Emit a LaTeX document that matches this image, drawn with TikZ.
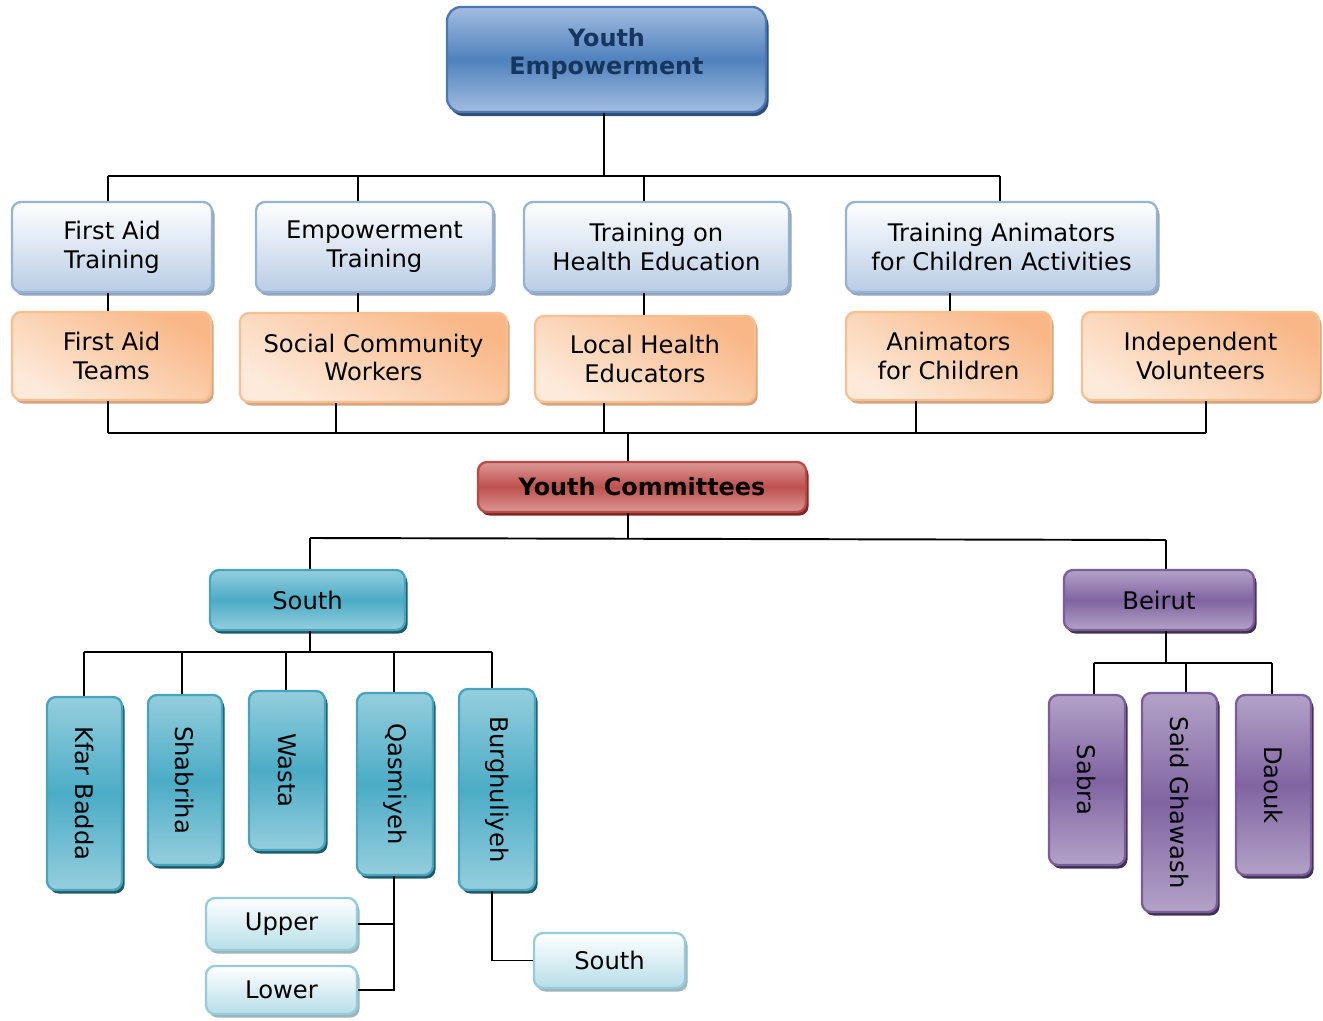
\documentclass[tikz,border=0pt]{standalone}
\usepackage{fontspec}
\setmainfont{DejaVu Sans}
\usepackage{graphicx}
\usetikzlibrary{shadows}
\definecolor{yemid}{HTML}{4F81BD}
\definecolor{yelight}{HTML}{A3BDE0}
\definecolor{yeborder}{HTML}{4A78B5}
\definecolor{yeshadow}{HTML}{2C4D75}
\definecolor{yetext}{HTML}{17365D}
\definecolor{lbtop}{HTML}{FFFFFF}
\definecolor{lbbot}{HTML}{B9CDE5}
\definecolor{lbborder}{HTML}{95B3D7}
\definecolor{lbshadow}{HTML}{96A5B8}
\definecolor{ordark}{HTML}{F9B787}
\definecolor{orlight}{HTML}{FDEADA}
\definecolor{orborder}{HTML}{F9BF8F}
\definecolor{orshadow}{HTML}{D2A47F}
\definecolor{rdmid}{HTML}{C0504D}
\definecolor{rdlight}{HTML}{DA9896}
\definecolor{rdborder}{HTML}{B94A47}
\definecolor{rdshadow}{HTML}{7F2624}
\definecolor{tlmid}{HTML}{4BACC6}
\definecolor{tllight}{HTML}{95CEDD}
\definecolor{tlborder}{HTML}{45A5BF}
\definecolor{tlshadow}{HTML}{215967}
\definecolor{ppmid}{HTML}{8064A2}
\definecolor{pplight}{HTML}{B3A2C7}
\definecolor{ppborder}{HTML}{7A5E9C}
\definecolor{ppshadow}{HTML}{3F3151}
\definecolor{lttop}{HTML}{FFFFFF}
\definecolor{ltbot}{HTML}{B7DEE8}
\definecolor{ltborder}{HTML}{93CDDD}
\definecolor{ltshadow}{HTML}{9FB3B9}
\newcommand{\mybox}[7]{%
  \node[#2, minimum width={(#5-#3)*0.02cm}, minimum height={(#6-#4)*0.02cm}] (#1) at ({(#3+#5)/2},{(#4+#6)/2}) {#7};}
\newcommand{\vtext}[1]{\rotatebox{-90}{#1}}
\tikzset{
  conn/.style={line width=1.1pt, black},
  basebox/.style={rounded corners=0.18cm, line width=1.3pt, inner sep=0pt, align=center,
    font=\fontsize{13.8}{16.3}\selectfont},
  yebox/.style={basebox, rounded corners=0.28cm, draw=yeborder, top color=yelight, bottom color=yelight,
    middle color=yemid, general shadow={fill=yeshadow, shadow xshift=0.05cm, shadow yshift=-0.08cm},
    text=yetext, text depth=0.33cm, font=\bfseries\fontsize{13.6}{16}\selectfont},
  lbbox/.style={basebox, draw=lbborder, top color=lbtop, bottom color=lbbot,
    general shadow={fill=lbshadow, shadow xshift=0.05cm, shadow yshift=-0.07cm}},
  orbox/.style={basebox, draw=orborder, top color=ordark, bottom color=orlight, shading angle=-30,
    general shadow={fill=orshadow, shadow xshift=0.05cm, shadow yshift=-0.07cm}},
  rdbox/.style={basebox, draw=rdborder, top color=rdlight, bottom color=rdlight, middle color=rdmid,
    general shadow={fill=rdshadow, shadow xshift=0.05cm, shadow yshift=-0.07cm},
    font=\bfseries\fontsize{13.6}{16.3}\selectfont},
  tlbox/.style={basebox, draw=tlborder, top color=tllight, bottom color=tllight, middle color=tlmid,
    general shadow={fill=tlshadow, shadow xshift=0.05cm, shadow yshift=-0.07cm}},
  ppbox/.style={basebox, draw=ppborder, top color=pplight, bottom color=pplight, middle color=ppmid,
    general shadow={fill=ppshadow, shadow xshift=0.05cm, shadow yshift=-0.07cm}},
  ltbox/.style={basebox, draw=ltborder, top color=lttop, bottom color=ltbot,
    general shadow={fill=ltshadow, shadow xshift=0.05cm, shadow yshift=-0.07cm}},
}
\begin{document}
\begin{tikzpicture}[x=0.02cm, y=-0.02cm]
\useasboundingbox (0,0) rectangle (1323,1021);
% nodes
\mybox{ye}{yebox}{447}{7}{766}{112}{Youth\\Empowerment}
\mybox{fat}{lbbox}{12}{202}{212}{292}{First Aid\\Training}
\mybox{et}{lbbox}{256}{202}{493}{292}{Empowerment\\Training}
\mybox{the}{lbbox}{524}{202}{789}{292}{Training on\\Health Education}
\mybox{ta}{lbbox}{846}{202}{1157}{292}{Training Animators\\for Children Activities}
\mybox{fam}{orbox}{12}{312}{211}{400}{First Aid\\Teams}
\mybox{scw}{orbox}{240}{313}{507}{402}{Social Community\\Workers}
\mybox{lhe}{orbox}{535}{316}{755}{402}{Local Health\\Educators}
\mybox{afc}{orbox}{846}{312}{1051}{400}{Animators\\for Children}
\mybox{iv}{orbox}{1082}{312}{1319}{400}{Independent\\Volunteers}
\mybox{yc}{rdbox}{478}{462}{806}{512}{Youth Committees}
\mybox{south}{tlbox}{210}{570}{405}{630}{South}
\mybox{beirut}{ppbox}{1064}{570}{1254}{630}{Beirut}
\mybox{kb}{tlbox}{47}{697}{122}{890}{\vtext{Kfar Badda}}
\mybox{sh}{tlbox}{148}{695}{222}{865}{\vtext{Shabriha}}
\mybox{wa}{tlbox}{249}{691}{325}{850}{\vtext{Wasta}}
\mybox{qa}{tlbox}{357}{693}{433}{875}{\vtext{Qasmiyeh}}
\mybox{bu}{tlbox}{459}{689}{535}{890}{\vtext{Burghuliyeh}}
\mybox{up}{ltbox}{206}{898}{357}{950}{Upper}
\mybox{lo}{ltbox}{206}{966}{357}{1014}{Lower}
\mybox{s2}{ltbox}{534}{933}{685}{988}{South}
\mybox{sa}{ppbox}{1049}{695}{1125}{865}{\vtext{Sabra}}
\mybox{sg}{ppbox}{1142}{693}{1217}{912}{\vtext{Said Ghawash}}
\mybox{da}{ppbox}{1236}{695}{1311}{875}{\vtext{Daouk}}
% coordinates
\coordinate (t1) at (604,176);
\coordinate (a1) at (108,176);
\coordinate (a2) at (358,176);
\coordinate (a3) at (644,176);
\coordinate (a4) at (1000,176);
\coordinate (m4) at (950,300);
\coordinate (t2) at (628,433);
\coordinate (b1) at (108,433);
\coordinate (b2) at (336,433);
\coordinate (b3) at (604,433);
\coordinate (b4) at (916,433);
\coordinate (b5) at (1206,433);
\coordinate (t3) at (628,538);
\coordinate (c1) at (310,538);
\coordinate (c2) at (1166,540);
\coordinate (t4) at (310,652);
\coordinate (e1) at (84,652);
\coordinate (e2) at (182,652);
\coordinate (e3) at (286,652);
\coordinate (e4) at (394,652);
\coordinate (e5) at (492,652);
\coordinate (q) at (394,900);
\coordinate (r) at (492,900);
\coordinate (t5) at (1166,663);
\coordinate (f1) at (1094,663);
\coordinate (f2) at (1186,663);
\coordinate (f3) at (1272,663);
% connectors level 1
\draw[conn] (ye.south -| t1) -- (t1);
\draw[conn] (a1) -- (a4);
\draw[conn] (a1) -- (fat.north -| a1);
\draw[conn] (a2) -- (et.north -| a2);
\draw[conn] (a3) -- (the.north -| a3);
\draw[conn] (a4) -- (ta.north -| a4);
\draw[conn] (fat.south -| a1) -- (fam.north -| a1);
\draw[conn] (et.south -| a2) -- (scw.north -| a2);
\draw[conn] (the.south -| a3) -- (lhe.north -| a3);
\draw[conn] (ta.south -| m4) -- (afc.north -| m4);
% level 2
\draw[conn] (b1) -- (b5);
\draw[conn] (fam.south -| b1) -- (b1);
\draw[conn] (scw.south -| b2) -- (b2);
\draw[conn] (lhe.south -| b3) -- (b3);
\draw[conn] (afc.south -| b4) -- (b4);
\draw[conn] (iv.south -| b5) -- (b5);
\draw[conn] (t2) -- (yc.north -| t2);
% level 3
\draw[conn] (yc.south -| t3) -- (t3);
\draw[conn] (c1) -- (c2);
\draw[conn] (c1) -- (south.north -| c1);
\draw[conn] (c2) -- (beirut.north -| c2);
% south
\draw[conn] (south.south -| t4) -- (t4);
\draw[conn] (e1) -- (e5);
\draw[conn] (e1) -- (kb.north -| e1);
\draw[conn] (e2) -- (sh.north -| e2);
\draw[conn] (e3) -- (wa.north -| e3);
\draw[conn] (e4) -- (qa.north -| e4);
\draw[conn] (e5) -- (bu.north -| e5);
\draw[conn] (qa.south -| q) -- (q |- lo.east) -- (lo.east);
\draw[conn] (up.east) -- (q |- up.east);
\draw[conn] (bu.south -| r) |- (s2.west);
% beirut
\draw[conn] (beirut.south -| t5) -- (t5);
\draw[conn] (f1) -- (f3);
\draw[conn] (f1) -- (sa.north -| f1);
\draw[conn] (f2) -- (sg.north -| f2);
\draw[conn] (f3) -- (da.north -| f3);
\end{tikzpicture}
\end{document}
